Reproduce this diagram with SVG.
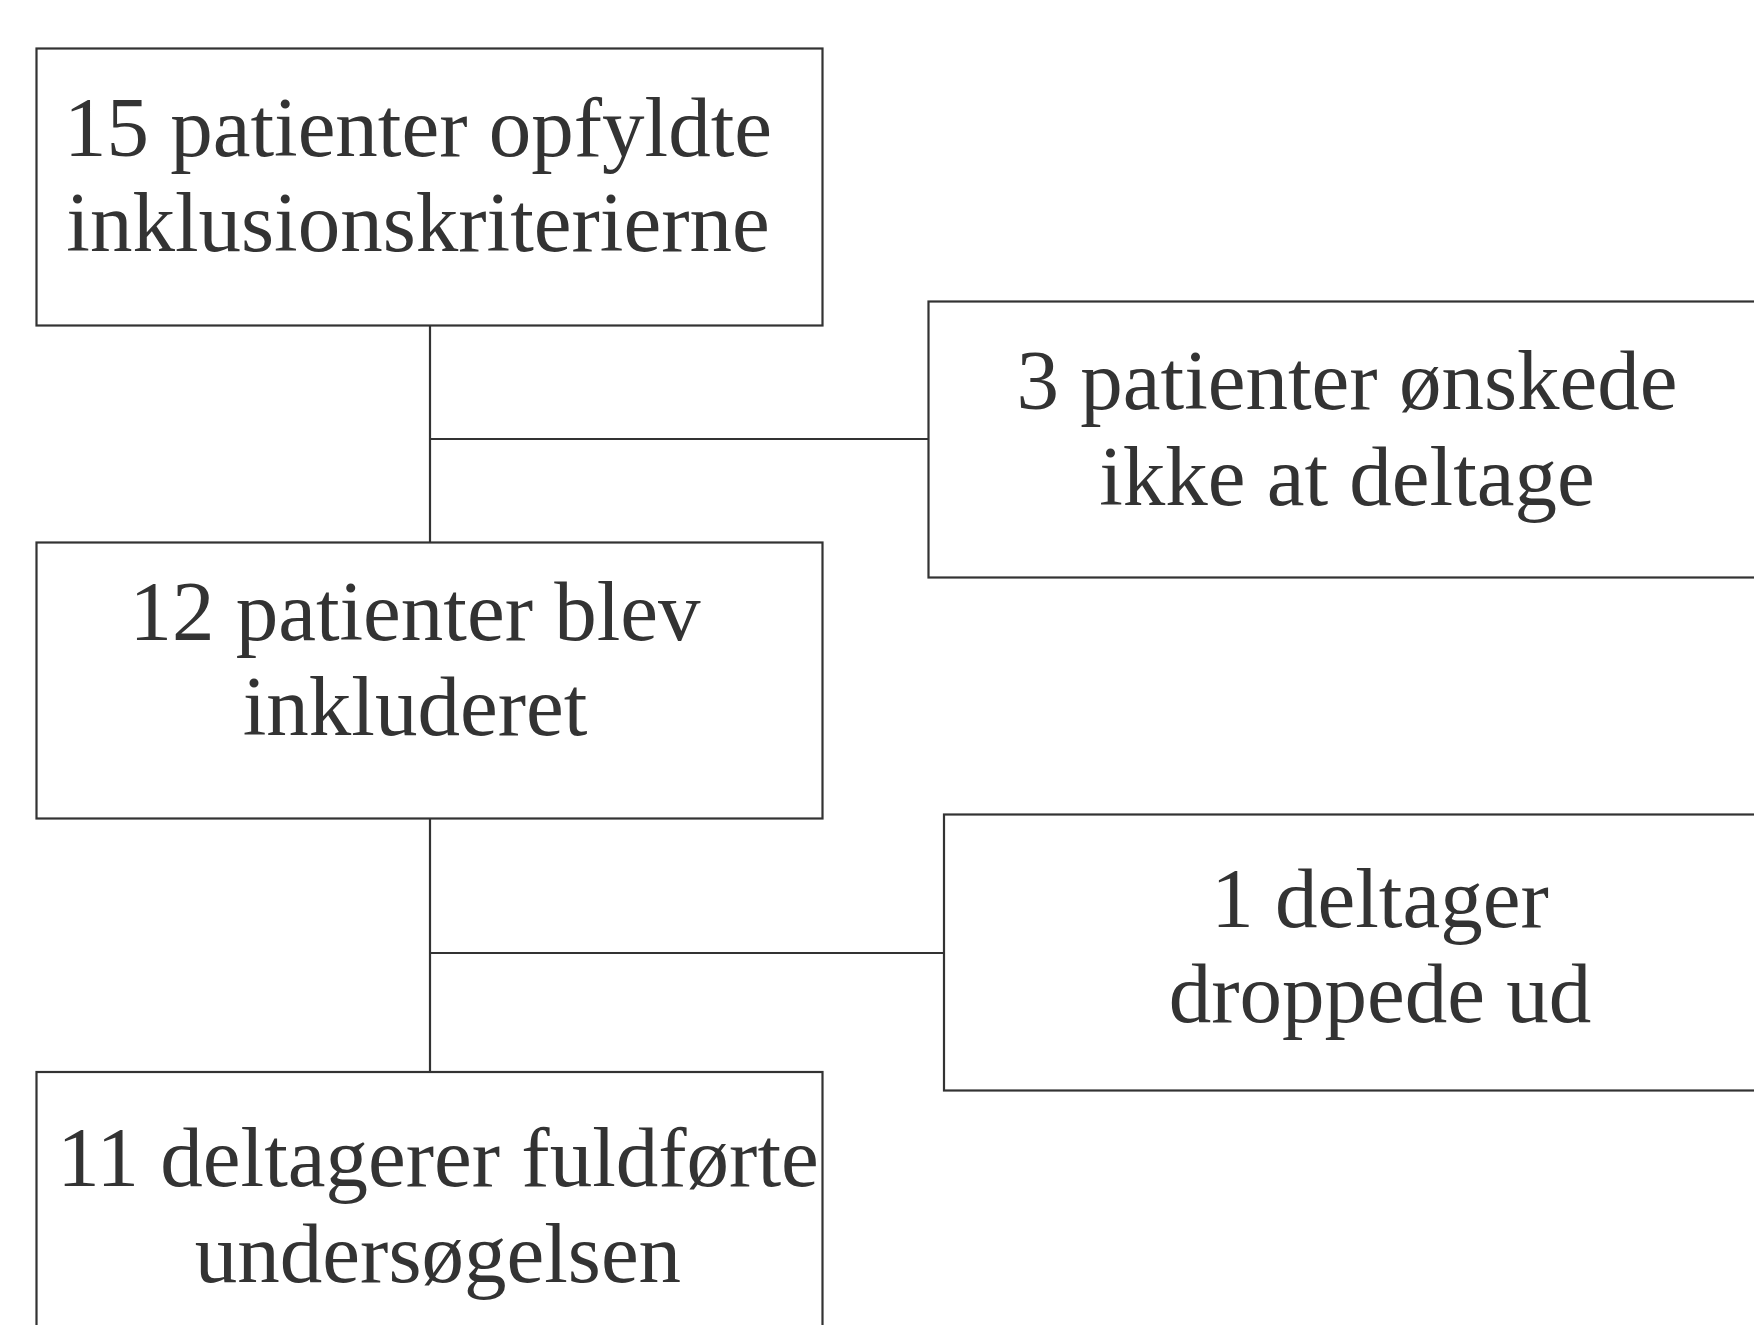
<svg xmlns="http://www.w3.org/2000/svg" width="1754" height="1325" viewBox="0 0 1754 1325">
<style>
.box{fill:#ffffff;stroke:#333333;stroke-width:2.2}
.conn{fill:none;stroke:#333333;stroke-width:2.2}
.t{font-family:"Liberation Serif","Times New Roman",serif;font-size:85px;fill:#333333;text-anchor:middle}
</style>
<rect x="0" y="0" width="1754" height="1325" fill="#ffffff"/>
<g id="connectors">
<line class="conn" x1="430" y1="325" x2="430" y2="543"/>
<line class="conn" x1="430" y1="439" x2="929" y2="439"/>
<line class="conn" x1="430" y1="819" x2="430" y2="1072"/>
<line class="conn" x1="430" y1="953" x2="944" y2="953"/>
</g>
<g id="n1">
<rect class="box" x="36.5" y="48.5" width="786" height="277"/>
<text class="t" x="418" y="156">15 patienter opfyldte</text>
<text class="t" x="418" y="251">inklusionskriterierne</text>
</g>
<g id="n2">
<rect class="box" x="928.5" y="301.5" width="840" height="276"/>
<text class="t" x="1347" y="409">3 patienter ønskede</text>
<text class="t" x="1347" y="505">ikke at deltage</text>
</g>
<g id="n3">
<rect class="box" x="36.5" y="542.5" width="786" height="276"/>
<text class="t" x="415" y="640">12 patienter blev</text>
<text class="t" x="415" y="735">inkluderet</text>
</g>
<g id="n4">
<rect class="box" x="944" y="814.5" width="830" height="276"/>
<text class="t" x="1380" y="927">1 deltager</text>
<text class="t" x="1380" y="1022">droppede ud</text>
</g>
<g id="n5">
<rect class="box" x="36.5" y="1072" width="786" height="280"/>
<text class="t" x="438" y="1186">11 deltagerer fuldførte</text>
<text class="t" x="438" y="1282">undersøgelsen</text>
</g>
</svg>
